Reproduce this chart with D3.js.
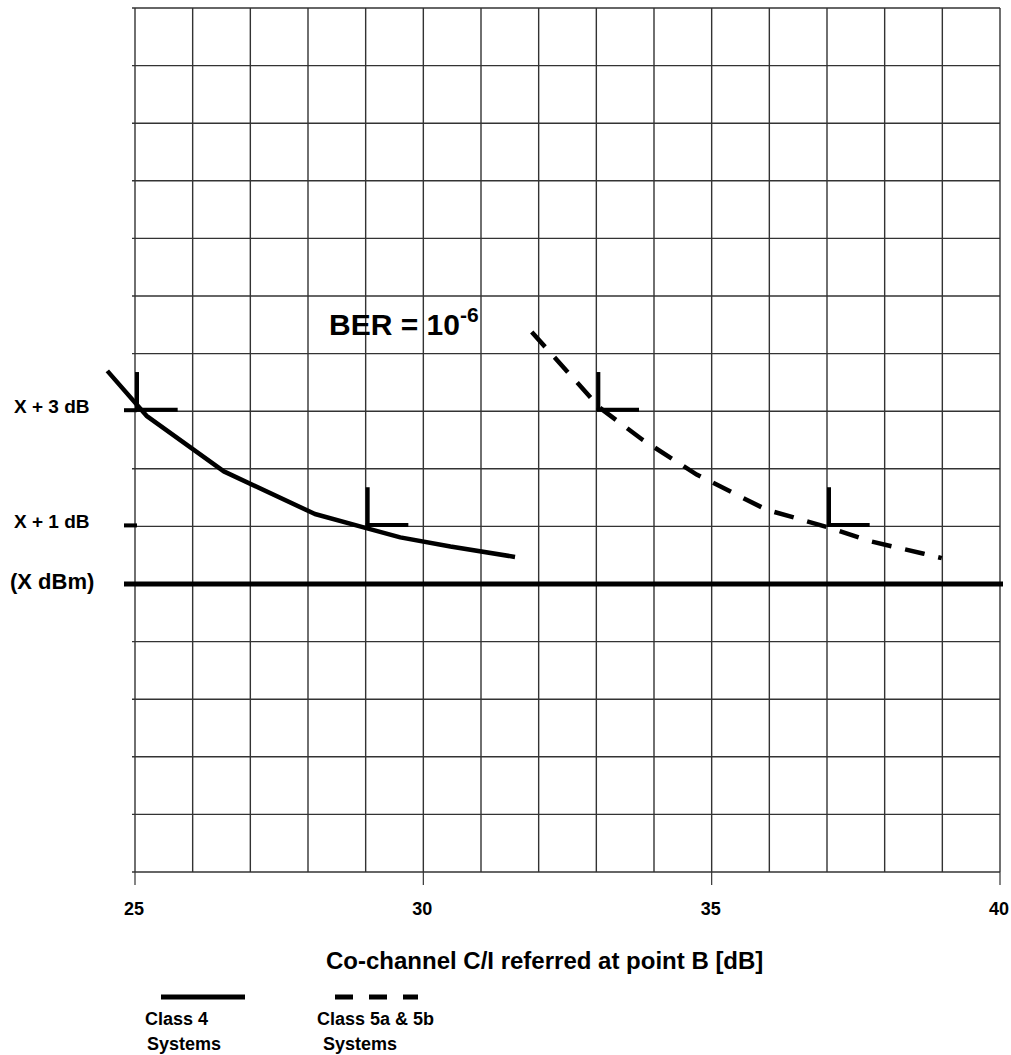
<!DOCTYPE html>
<html>
<head>
<meta charset="utf-8">
<script src="https://d3js.org/d3.v7.min.js"></script>
<style>
  html, body { margin: 0; padding: 0; background: #fff; }
  text { font-family: "Liberation Sans", Arial, sans-serif; font-weight: bold; fill: #000; }
</style>
</head>
<body>
<div id="chart"></div>
<script>
// values
const xTicks = [25, 30, 35, 40];
const class4X = [24.52, 25.20, 26.54, 28.12, 28.98, 29.60, 30.47, 31.59];
const class4Y = [3.70, 2.92, 1.955, 1.215, 0.98, 0.81, 0.65, 0.47];
const class5X = [31.88, 33.06, 33.80, 34.74, 35.95, 37.00, 37.76, 38.66, 38.99];
const class5Y = [4.375, 3.06, 2.505, 1.90, 1.29, 0.99, 0.74, 0.53, 0.45];
const markerX = [25, 29, 33, 37];
const markerY = [3, 1, 3, 1];
const yLabels = ["X + 3 dB", "X + 1 dB"];
const yLabelVals = [3, 1];
const legendNames = [["Class 4", "Systems"], ["Class 5a & 5b", "Systems"]];

const width = 1011, height = 1055;

const svg = d3.select("#chart")
    .append("svg")
    .attr("width", width)
    .attr("height", height);

const x = d3.scaleLinear().domain([25, 40]).range([135, 1000]);
const y = d3.scaleLinear().domain([-5, 10]).range([872, 8]);

// grid
svg.append("g").selectAll("line")
    .data(d3.range(25, 41))
    .enter().append("line")
    .attr("x1", d => x(d)).attr("x2", d => x(d))
    .attr("y1", y(10)).attr("y2", y(-5))
    .style("stroke", "#333").style("stroke-width", 1.4);

svg.append("g").selectAll("line")
    .data(d3.range(-5, 11))
    .enter().append("line")
    .attr("x1", x(25) - 3).attr("x2", x(40))
    .attr("y1", d => y(d)).attr("y2", d => y(d))
    .style("stroke", "#333").style("stroke-width", 1.4);

// x axis ticks + labels
const xAxis = svg.append("g");
xAxis.selectAll("line")
    .data(xTicks)
    .enter().append("line")
    .attr("x1", d => x(d)).attr("x2", d => x(d))
    .attr("y1", y(-5)).attr("y2", y(-5) + 13)
    .style("stroke", "#333").style("stroke-width", 1.2);
xAxis.selectAll("text")
    .data(xTicks)
    .enter().append("text")
    .attr("x", d => x(d) - 1)
    .attr("y", 915)
    .attr("text-anchor", "middle")
    .style("font-size", "18px")
    .text(d => d);

svg.append("text")
    .attr("x", 326).attr("y", 969)
    .style("font-size", "24px")
    .text("Co-channel C/I referred at point B [dB]");

// reference line (X dBm)
svg.append("line")
    .attr("x1", x(25) - 11).attr("x2", x(40) + 3)
    .attr("y1", y(0)).attr("y2", y(0))
    .style("stroke", "#000").style("stroke-width", 5);

// y labels with stubs
svg.append("g").selectAll("line")
    .data(yLabelVals)
    .enter().append("line")
    .attr("x1", x(25) - 11).attr("x2", x(25) + 2)
    .attr("y1", d => y(d) - 1).attr("y2", d => y(d) - 1)
    .style("stroke", "#000").style("stroke-width", 4);
svg.append("g").selectAll("text")
    .data(yLabels)
    .enter().append("text")
    .attr("x", 14)
    .attr("y", (d, i) => y(yLabelVals[i]) + 2)
    .style("font-size", "19px")
    .text(d => d);
svg.append("text")
    .attr("x", 10).attr("y", y(0) + 5)
    .style("font-size", "22px")
    .text("(X dBm)");

// curves
const line = d3.line().x(d => x(d[0])).y(d => y(d[1]));

svg.append("path")
    .datum(class4X.map((v, i) => [v, class4Y[i]]))
    .attr("d", line)
    .style("fill", "none").style("stroke", "#000")
    .style("stroke-width", 4.5).style("stroke-linejoin", "round");

svg.append("path")
    .datum(class5X.map((v, i) => [v, class5Y[i]]))
    .attr("d", line)
    .style("fill", "none").style("stroke", "#000")
    .style("stroke-width", 4.5)
    .style("stroke-dasharray", "20,14");

// L markers
const vLen = 0.68, hLen = 0.74;
const mk = svg.append("g");
mk.selectAll("line.v")
    .data(markerX)
    .enter().append("line").attr("class", "v")
    .attr("x1", d => x(d) + 2).attr("x2", d => x(d) + 2)
    .attr("y1", (d, i) => y(markerY[i] + vLen)).attr("y2", (d, i) => y(markerY[i]))
    .style("stroke", "#000").style("stroke-width", 4);
mk.selectAll("line.h")
    .data(markerX)
    .enter().append("line").attr("class", "h")
    .attr("x1", d => x(d)).attr("x2", d => x(d + hLen))
    .attr("y1", (d, i) => y(markerY[i]) - 1.5).attr("y2", (d, i) => y(markerY[i]) - 1.5)
    .style("stroke", "#000").style("stroke-width", 4);

// BER label
const ber = svg.append("text")
    .attr("x", 329).attr("y", 335)
    .style("font-size", "30px");
ber.append("tspan").text("BER = 10");
ber.append("tspan").attr("dy", -13).style("font-size", "21px").text("-6");

// legend
svg.append("line")
    .attr("x1", 161).attr("x2", 245).attr("y1", 997).attr("y2", 997)
    .style("stroke", "#000").style("stroke-width", 5);
svg.append("line")
    .attr("x1", 335).attr("x2", 418).attr("y1", 997).attr("y2", 997)
    .style("stroke", "#000").style("stroke-width", 5)
    .style("stroke-dasharray", "18,16");

const legX = [[145, 147], [317, 323]];
legendNames.forEach((names, i) => {
    names.forEach((t, j) => {
        svg.append("text")
            .attr("x", legX[i][j])
            .attr("y", 1025 + j * 25)
            .style("font-size", "18px")
            .text(t);
    });
});
</script>
</body>
</html>
